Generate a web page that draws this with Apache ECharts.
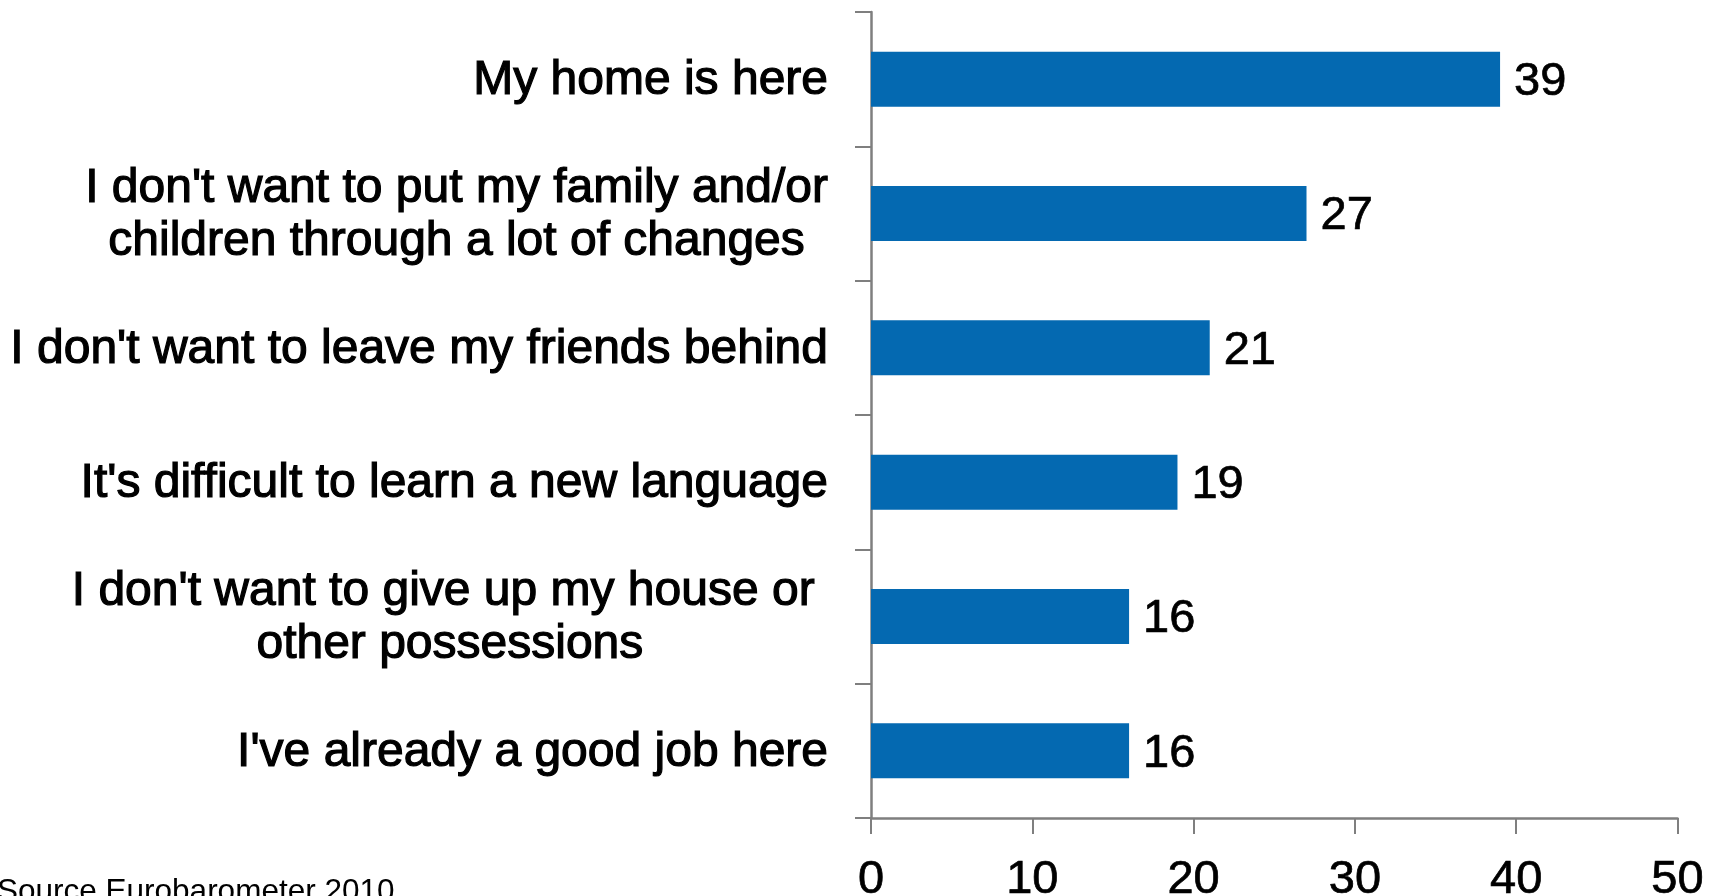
<!DOCTYPE html>
<html>
<head>
<meta charset="utf-8">
<title>Reasons for not moving abroad</title>
<script src="https://cdn.jsdelivr.net/npm/echarts@6/dist/echarts.min.js"></script>
<style>
  html, body { margin: 0; padding: 0; background: #ffffff; }
  #chart { width: 1719px; height: 896px; }
</style>
</head>
<body>
<div id="chart"></div>
<script>
// Reasons given, top to bottom
const categories = [
  "My home is here",
  "I don't want to put my family and/or\nchildren through a lot of changes",
  "I don't want to leave my friends behind",
  "It's difficult to learn a new language",
  "I don't want to give up my house or \nother possessions",
  "I've already a good job here"
];
// Share of respondents (%)
const values = [39, 27, 21, 19, 16, 16];
// Value axis ticks
const tickValues = [0, 10, 20, 30, 40, 50];
const sourceNote = "Source Eurobarometer 2010";

const FONT = "'Liberation Sans', Arial, sans-serif";
const BAR_COLOR = '#0469B1';
const AXIS_COLOR = '#7f7f7f';

// heavier glyph rendering for the label text
const INK = { color: '#000000', textBorderColor: '#000000', textBorderWidth: 1.2 };

const chart = echarts.init(document.getElementById('chart'), null, { renderer: 'canvas' });

chart.setOption({
  animation: false,
  backgroundColor: '#ffffff',
  grid: {
    left: 871, right: 41.5, top: 12, bottom: 78,
    containLabel: false,
    outerBoundsMode: 'none'
  },
  xAxis: {
    type: 'value',
    min: tickValues[0],
    max: tickValues[tickValues.length - 1],
    interval: tickValues[1] - tickValues[0],
    splitLine: { show: false },
    axisLine: { show: true, lineStyle: { color: AXIS_COLOR, width: 2.5 } },
    axisTick: { show: true, length: 16, lineStyle: { color: AXIS_COLOR, width: 2 } },
    axisLabel: Object.assign({
      margin: 39,
      fontFamily: FONT,
      fontSize: 47
    }, INK, { textBorderWidth: 0.7 })
  },
  yAxis: {
    type: 'category',
    inverse: true,
    data: categories,
    axisLine: { show: true, lineStyle: { color: AXIS_COLOR, width: 2.5 } },
    axisTick: { show: true, length: 16, alignWithLabel: false, lineStyle: { color: AXIS_COLOR, width: 2 } },
    axisLabel: Object.assign({
      margin: 43,
      align: 'right',
      fontFamily: FONT,
      fontSize: 48,
      lineHeight: 53,
      padding: [4, 0, 0, 0],
      formatter: function (v) {
        return v.split('\n').map(function (line) { return '{c|' + line + '}'; }).join('\n');
      },
      rich: {
        c: Object.assign({
          align: 'center',
          fontFamily: FONT,
          fontSize: 48,
          lineHeight: 53
        }, INK)
      }
    }, INK)
  },
  series: [{
    type: 'bar',
    data: values,
    barCategoryGap: '59%',
    itemStyle: { color: BAR_COLOR },
    label: Object.assign({
      show: true,
      position: 'right',
      distance: 14,
      offset: [0, 3],
      fontFamily: FONT,
      fontSize: 47
    }, INK, { textBorderWidth: 0.7 })
  }],
  graphic: [{
    type: 'text',
    left: -3,
    top: 876,
    style: {
      text: sourceNote,
      fill: '#000000',
      font: '31.5px ' + FONT
    }
  }]
});
</script>
</body>
</html>
